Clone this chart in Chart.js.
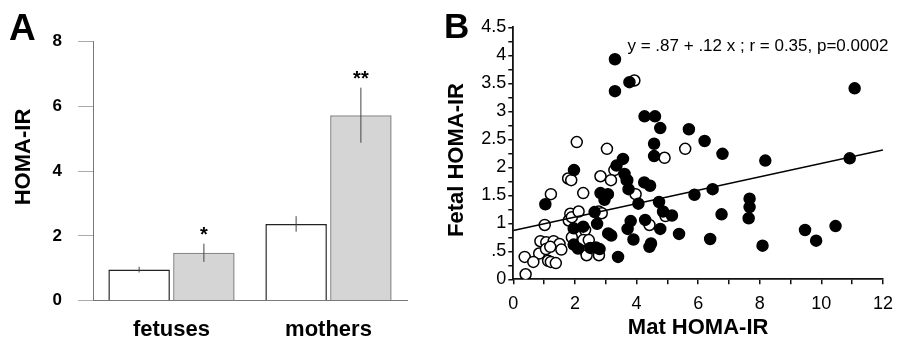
<!DOCTYPE html>
<html>
<head>
<meta charset="utf-8">
<script src="https://cdn.jsdelivr.net/npm/chart.js@4.4.1/dist/chart.umd.min.js"></script>
<style>
  html, body { margin: 0; padding: 0; background: #fff; }
  #wrap { position: relative; width: 902px; height: 342px; overflow: hidden; }
  canvas { position: absolute; top: 0; }
  #ca { left: 0; }
  #cb { left: 440px; }
</style>
</head>
<body>
<div id="wrap">
  <canvas id="ca" width="440" height="342"></canvas>
  <canvas id="cb" width="462" height="342"></canvas>
</div>
<script>
// ---------- Panel A data ----------
const categories = ['fetuses', 'mothers'];
const whiteValues = [0.96, 2.37];
const whiteErrors = [0.09, 0.24];
const grayValues = [1.48, 5.73];
const grayErrors = [0.28, 0.85];
const grayStars = ['*', '**'];
const yTicksA = ['0', '2', '4', '6', '8'];

// ---------- Panel B data ----------
const filledX = [3.30,3.77,3.30,4.26,4.60,4.77,5.70,4.57,4.57,3.56,3.35,1.97,3.61,3.70,4.25,4.44,1.04,2.83,3.07,2.96,3.74,4.06,4.73,4.86,5.15,5.88,6.47,6.21,6.79,8.18,11.08,10.92,7.67,7.67,7.64,6.76,6.39,8.09,9.47,9.83,10.46,5.38,4.77,4.28,3.81,3.71,3.90,4.42,4.47,3.40,3.08,3.18,2.72,2.64,1.96,2.27,1.96,2.10,2.50,2.68,2.80];
const filledY = [3.93,3.52,3.36,2.91,2.91,2.70,2.68,2.42,2.20,2.15,2.03,1.95,1.88,1.77,1.73,1.67,1.34,1.54,1.52,1.42,1.61,1.35,1.38,1.21,1.14,1.51,1.61,2.47,2.24,2.12,3.41,2.16,1.44,1.29,1.09,1.16,0.72,0.60,0.88,0.69,0.95,0.81,0.90,1.06,1.04,0.90,0.71,0.58,0.64,0.40,0.82,0.78,0.99,1.20,0.91,0.94,0.62,0.55,0.56,0.57,0.54];
const openX = [3.93,3.04,5.58,4.91,2.06,3.28,1.78,1.88,2.83,3.17,3.68,1.22,2.27,3.97,4.94,4.42,2.77,2.87,1.85,1.80,1.90,2.12,2.33,1.90,2.27,2.45,2.35,2.38,2.78,1.02,0.88,1.07,1.31,1.50,1.56,0.84,1.06,1.13,1.22,1.38,0.37,0.65,0.40,1.20];
const openY = [3.55,2.33,2.33,2.17,2.45,1.95,1.80,1.77,1.84,1.77,1.77,1.52,1.54,1.52,1.13,0.97,1.21,1.18,1.17,1.05,1.11,1.21,0.88,0.75,0.70,0.70,0.49,0.43,0.43,0.97,0.68,0.66,0.68,0.63,0.53,0.46,0.54,0.33,0.31,0.29,0.40,0.31,0.09,0.58];
const regX = [0, 12];
const regY = [0.87, 2.31];
const xTicksB = ['0', '2', '4', '6', '8', '10', '12'];
const yTicksB = ['0', '.5', '1', '1.5', '2', '2.5', '3', '3.5', '4', '4.5'];
const equationText = 'y = .87 + .12 x ; r = 0.35, p=0.0002';

const FONT = "'Liberation Sans', Arial, Helvetica, sans-serif";
Chart.defaults.font.family = FONT;
Chart.defaults.color = '#000';
Chart.defaults.animation = false;

// ---------- Panel A ----------
const errorBars = {
  id: 'errorBars',
  afterDatasetsDraw(chart) {
    const { ctx } = chart;
    const y = chart.scales.y;
    chart.data.datasets.forEach((ds, di) => {
      const meta = chart.getDatasetMeta(di);
      meta.data.forEach((bar, i) => {
        const v = ds.data[i], e = ds.errors[i];
        const top = y.getPixelForValue(v + e);
        const bot = y.getPixelForValue(v - e);
        ctx.save();
        ctx.strokeStyle = '#444';
        ctx.lineWidth = 1;
        ctx.beginPath();
        ctx.moveTo(bar.x, top);
        ctx.lineTo(bar.x, bot);
        ctx.stroke();
        if (ds.stars && ds.stars[i]) {
          ctx.fillStyle = '#000';
          ctx.font = 'bold 20px ' + FONT;
          ctx.textAlign = 'center';
          ctx.textBaseline = 'alphabetic';
          ctx.fillText(ds.stars[i], bar.x, top - 3);
        }
        ctx.restore();
      });
    });
  }
};

const labelsA = {
  id: 'labelsA',
  afterDraw(chart) {
    const { ctx } = chart;
    ctx.save();
    ctx.fillStyle = '#000';
    ctx.font = 'bold 37px ' + FONT;
    ctx.textAlign = 'left';
    ctx.textBaseline = 'alphabetic';
    ctx.fillText('A', 9, 40);
    ctx.translate(24, 157);
    ctx.rotate(-Math.PI / 2);
    ctx.font = 'bold 22px ' + FONT;
    ctx.textAlign = 'center';
    ctx.textBaseline = 'middle';
    ctx.fillText('HOMA-IR', 0, 0);
    ctx.restore();
  }
};

new Chart(document.getElementById('ca'), {
  type: 'bar',
  data: {
    labels: categories,
    datasets: [
      {
        data: whiteValues, errors: whiteErrors, stars: ['', ''],
        backgroundColor: '#ffffff', borderColor: '#222', borderWidth: 1.5,
        barPercentage: 0.95, categoryPercentage: 0.825
      },
      {
        data: grayValues, errors: grayErrors, stars: grayStars,
        backgroundColor: '#d5d5d5', borderColor: '#888', borderWidth: 1.5,
        barPercentage: 0.95, categoryPercentage: 0.825
      }
    ]
  },
  options: {
    responsive: false,
    events: [],
    layout: { padding: { top: 41.7, right: 33, bottom: 0, left: 0 } },
    plugins: { legend: { display: false }, tooltip: { enabled: false } },
    scales: {
      x: {
        grid: { display: false, drawTicks: false, tickLength: 0 },
        border: { display: true, color: '#777', width: 1 },
        ticks: { font: { size: 22, weight: 'bold' }, color: '#000', padding: 16 },
        afterFit(s) { s.height = 41.3; }
      },
      y: {
        min: 0, max: 8,
        grid: { drawOnChartArea: false, drawTicks: true, tickLength: 15, color: '#aaa' },
        border: { display: true, color: '#777', width: 1 },
        ticks: {
          stepSize: 2, padding: 16, color: '#000',
          font: { size: 17, weight: 'bold' },
          callback: (v, i) => yTicksA[i]
        },
        afterFit(s) { s.width = 93; }
      }
    }
  },
  plugins: [errorBars, labelsA]
});

// ---------- Panel B ----------
const labelsB = {
  id: 'labelsB',
  afterDraw(chart) {
    const { ctx } = chart;
    ctx.save();
    ctx.fillStyle = '#000';
    ctx.font = 'bold 35px ' + FONT;
    ctx.textAlign = 'left';
    ctx.textBaseline = 'alphabetic';
    ctx.fillText('B', 4, 38);
    ctx.font = '17px ' + FONT;
    ctx.fillText(equationText, 187.5, 51);
    ctx.translate(16.5, 160);
    ctx.rotate(-Math.PI / 2);
    ctx.font = 'bold 22px ' + FONT;
    ctx.textAlign = 'center';
    ctx.textBaseline = 'middle';
    ctx.fillText('Fetal HOMA-IR', 0, 0);
    ctx.restore();
  }
};

const filledPts = filledX.map((x, i) => ({ x, y: filledY[i] }));
const openPts = openX.map((x, i) => ({ x, y: openY[i] }));
const regPts = regX.map((x, i) => ({ x, y: regY[i] }));

new Chart(document.getElementById('cb'), {
  type: 'scatter',
  data: {
    datasets: [
      {
        type: 'line', data: regPts, borderColor: '#000', borderWidth: 1.5,
        pointRadius: 0, fill: false, order: 0
      },
      {
        data: filledPts, backgroundColor: '#000', borderColor: '#000',
        borderWidth: 1.5, pointRadius: 5.5, pointHoverRadius: 5.5, order: 1
      },
      {
        data: openPts, backgroundColor: '#fff', borderColor: '#000',
        borderWidth: 1.5, pointRadius: 5.5, pointHoverRadius: 5.5, order: 2
      }
    ]
  },
  options: {
    responsive: false,
    events: [],
    layout: { padding: { top: 27.3, right: 10.3, bottom: 0, left: 0 } },
    plugins: { legend: { display: false }, tooltip: { enabled: false } },
    scales: {
      x: {
        type: 'linear', min: 0, max: 12,
        grid: { drawOnChartArea: false, drawTicks: true, tickLength: 5, color: '#111', lineWidth: 1.5 },
        border: { display: true, color: '#111', width: 1.8 },
        ticks: {
          stepSize: 1, autoSkip: false, maxRotation: 0, padding: 9, color: '#000',
          font: { size: 18 },
          callback: (v) => (v % 2 === 0 ? xTicksB[v / 2] : '')
        },
        title: {
          display: true, text: 'Mat HOMA-IR', color: '#000',
          font: { size: 22, weight: 'bold' }, padding: { top: 0, bottom: 1 }
        },
        afterFit(s) { s.height = 62.7; }
      },
      y: {
        type: 'linear', min: 0, max: 4.5,
        grid: { drawOnChartArea: false, drawTicks: true, tickLength: 5, color: '#111', lineWidth: 1.5 },
        border: { display: true, color: '#111', width: 1.8 },
        ticks: {
          stepSize: 0.25, autoSkip: false, padding: 2, color: '#000',
          font: { size: 18 },
          callback: (v, i) => (i % 2 === 0 ? yTicksB[i / 2] : '')
        },
        afterFit(s) { s.width = 73.3; }
      }
    }
  },
  plugins: [labelsB]
});
</script>
</body>
</html>
